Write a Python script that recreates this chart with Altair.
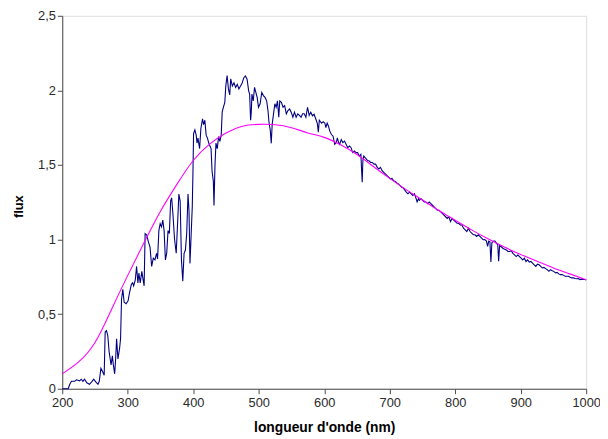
import altair as alt
import pandas as pd

# Observed solar spectrum (navy line)
spec_nm = [
    200, 205, 209, 211.5, 214, 219, 221.5, 226.5, 229, 231.5, 234, 237.5, 241.5, 245.5, 248, 251.5, 254.5, 256.5,
    259, 261.5, 264, 265.5, 267.5, 269.5, 271.5, 274.5, 276.5, 278, 280, 281.5, 283, 285, 287.5, 289, 290.5, 292.5,
    294.5, 297.5, 300.5, 302.5, 305.5, 307.5, 309, 311.5, 313.5, 315.5, 317, 319, 321.5, 323.5, 325, 326.5, 329,
    331.5, 334, 336.5, 339, 341.5, 344, 345.5, 347.5, 349.5, 351.5, 353.5, 355.5, 357.5, 359.5, 361.5, 363.5, 365.5,
    367, 369, 371.5, 374, 376.5, 378, 380, 382, 384, 386, 388, 390, 392, 393.5, 395, 396.5, 398.5, 399.5, 400.5,
    402.5, 404.5, 405.7, 407.2, 409.7, 411.7, 414.2, 415.7, 417.7, 419.7, 421.7, 423.7, 425.7, 427.2, 428.7, 430.7,
    431.7, 433.2, 434.7, 436.7, 438.7, 440.7, 442.7, 444.2, 446.2, 448.2, 449.7, 451.7, 453.7, 455.7, 457.2, 459.7,
    462.2, 464.7, 467.2, 469.7, 472.2, 474.7, 477.2, 479.7, 482.2, 484.6, 486.1, 487.6, 488.6, 489.6, 491.6, 493.6,
    495.6, 497.6, 499.6, 502.1, 504.6, 507.1, 509.6, 512.1, 514.1, 515.6, 517.6, 519.1, 520.6, 522.6, 524.6, 526.6,
    528.6, 530.6, 532.1, 534.6, 537.1, 539.6, 542.1, 544.6, 547.1, 549.6, 552.1, 554.6, 557.1, 559.6, 562.1, 564.6,
    567, 569.5, 572, 574.5, 577, 579.5, 582, 584.5, 587, 589.5, 591, 592.5, 596, 598.5, 601, 602.5, 604.5, 606.5,
    608.5, 611, 613.5, 616, 618.5, 620, 622, 623.5, 626, 628.5, 631, 633.5, 636, 638.5, 641, 643.5, 646, 648.5, 651,
    653.5, 656, 657, 658, 659, 660.4, 662.4, 664.4, 666.4, 668.4, 670.9, 673.4, 675.9, 678.4, 680.9, 683.4, 685.9,
    688.4, 690.9, 693.4, 695.9, 698.4, 700.9, 703.4, 705.9, 708.4, 710.9, 713.4, 715.9, 718.4, 720.9, 725.3, 727.8,
    730.3, 732.8, 735.3, 737.8, 740.3, 741.8, 743.8, 745.3, 747.8, 750.3, 752.8, 755.3, 757.8, 760.3, 762.8, 765.3,
    767.8, 770.3, 772.8, 775.3, 777.8, 780.3, 782.8, 785.3, 787.8, 790.3, 792.8, 795.3, 797.8, 800.3, 802.8, 805.3,
    807.8, 810.2, 812.7, 815.2, 817.7, 820.2, 822.7, 825.2, 827.7, 830.2, 832.7, 835.2, 837.7, 840.2, 842.7, 845.2,
    847.7, 849.5, 851.2, 853, 854.5, 856, 858.7, 860.7, 863.2, 865, 866.3, 867.8, 870.7, 873.2, 875.6, 878.1, 880.6,
    883.1, 885.6, 888.1, 890.6, 893.1, 895.6, 898.1, 900.6, 903.1, 905.6, 908.1, 910.6, 913.1, 915.6, 918.1, 920.6,
    923.1, 925.6, 928.1, 930.6, 933.1, 935.6, 938.1, 940.6, 943.1, 945.6, 948.1, 950.6, 953.1, 955.6, 958.1, 960.6,
    963.1, 965.6, 968, 970.5, 973, 975.5, 978, 980.5, 983, 985.5, 988, 990.5, 993, 995.5, 998, 1000,
]
spec_flux = [
    0.0, 0.0, 0.0, 0.03, 0.05, 0.05, 0.06, 0.053, 0.064, 0.05, 0.064, 0.04, 0.03, 0.05, 0.064, 0.045, 0.03, 0.05,
    0.137, 0.115, 0.09, 0.38, 0.39, 0.357, 0.25, 0.16, 0.22, 0.16, 0.10, 0.20, 0.335, 0.20, 0.27, 0.335, 0.60, 0.666,
    0.58, 0.57, 0.59, 0.64, 0.70, 0.71, 0.69, 0.73, 0.82, 0.71, 0.776, 0.71, 0.787, 0.73, 0.69, 1.04, 1.03,
    0.985, 0.95, 0.82, 0.875, 0.864, 0.908, 0.87, 1.06, 1.107, 1.085, 1.13, 1.06, 0.864, 0.91, 1.06, 1.04, 1.26,
    1.28, 1.17, 1.0, 0.908, 1.15, 1.305, 1.26, 0.864, 0.72, 0.908, 0.93, 1.04, 1.305, 1.195, 0.84, 1.0, 1.22, 1.44, 1.71,
    1.735, 1.70, 1.647, 1.68, 1.61, 1.746, 1.81, 1.77, 1.80, 1.70, 1.68, 1.647, 1.625, 1.61, 1.46, 1.39,
    1.228, 1.50, 1.647, 1.61, 1.69, 1.658, 1.70, 1.856, 1.89, 1.92, 2.03, 2.10, 2.01, 1.97, 2.077, 2.03,
    2.05, 2.02, 2.04, 2.01, 2.03, 2.05, 2.085, 2.097, 2.075, 1.997, 1.975, 1.80, 1.854, 1.975, 1.93, 2.02,
    1.986, 1.953, 1.887, 1.91, 1.986, 1.965, 1.953, 1.93, 1.865, 1.788, 1.733, 1.645, 1.777, 1.843, 1.91, 1.887,
    1.93, 1.82, 1.93, 1.92, 1.887, 1.898, 1.843, 1.865, 1.876, 1.854, 1.82, 1.854, 1.82, 1.843, 1.832, 1.82,
    1.843, 1.843, 1.82, 1.887, 1.832, 1.854, 1.83, 1.84, 1.81, 1.777, 1.72, 1.80, 1.78, 1.79, 1.78, 1.75, 1.78, 1.76,
    1.727, 1.704, 1.693, 1.638, 1.65, 1.682, 1.65, 1.638, 1.67, 1.65, 1.66, 1.638, 1.616, 1.627, 1.616, 1.583, 1.594, 1.583, 1.583,
    1.56, 1.572, 1.47, 1.385, 1.528, 1.56, 1.55, 1.539, 1.528, 1.528, 1.517, 1.517, 1.506, 1.506, 1.484, 1.473, 1.484,
    1.462, 1.451, 1.44, 1.429, 1.418, 1.407, 1.41, 1.395, 1.389, 1.38, 1.373, 1.362, 1.351, 1.345, 1.318, 1.307,
    1.318, 1.307, 1.296, 1.307, 1.274, 1.252, 1.274, 1.263, 1.274, 1.263, 1.252, 1.252, 1.241, 1.252, 1.241, 1.23,
    1.219, 1.208, 1.197, 1.197, 1.186, 1.175, 1.164, 1.153, 1.142, 1.153, 1.12, 1.142, 1.131, 1.12, 1.109, 1.109,
    1.098, 1.098, 1.076, 1.065, 1.054, 1.076, 1.054, 1.043, 1.032, 1.032, 1.021, 1.032, 1.021, 1.01, 0.999, 1.0,
    0.99, 0.955, 0.99, 0.985, 0.85, 0.98, 0.99, 0.99, 0.975, 0.965, 0.855, 0.96, 0.95, 0.94, 0.935, 0.93, 0.92,
    0.92, 0.925, 0.908, 0.897, 0.886, 0.897, 0.886, 0.875, 0.864, 0.875, 0.853, 0.864, 0.849, 0.853, 0.842, 0.831,
    0.82, 0.835, 0.831, 0.82, 0.81, 0.813, 0.805, 0.798, 0.787, 0.798, 0.791, 0.787, 0.776, 0.78, 0.77, 0.765,
    0.765, 0.76, 0.754, 0.754, 0.754, 0.747, 0.743, 0.743, 0.739, 0.737, 0.739, 0.732, 0.735, 0.732, 0.732, 0.73,
]

# Blackbody reference curve (magenta)
bb_nm = [200, 225, 250, 275, 300, 325, 350, 375, 400, 425, 450, 475, 500, 525, 550, 575, 600,
         625, 650, 675, 700, 725, 750, 775, 800, 825, 850, 875, 900, 925, 950, 975, 1000]
bb_flux = [0.10, 0.18, 0.31, 0.53, 0.76, 0.98, 1.19, 1.37, 1.53, 1.64, 1.715, 1.76, 1.772, 1.77, 1.75, 1.715, 1.685,
           1.635, 1.57, 1.49, 1.41, 1.335, 1.265, 1.195, 1.13, 1.065, 1.005, 0.95, 0.90, 0.855, 0.81, 0.77, 0.73]

x_ticks = [200, 300, 400, 500, 600, 700, 800, 900, 1000]
y_ticks = [0, 0.5, 1, 1.5, 2, 2.5]

spec = pd.DataFrame({"nm": spec_nm, "flux": spec_flux})
bb = pd.DataFrame({"nm": bb_nm, "flux": bb_flux})

FONT = "Liberation Sans"
AXIS_COLOR = "#4a4a4a"
LABEL_COLOR = "#2a2a2a"

x_enc = alt.X(
    "nm:Q",
    scale=alt.Scale(domain=[200, 1000], nice=False),
    axis=alt.Axis(
        values=x_ticks, format="d", title="longueur d'onde (nm)",
        grid=False, tickSize=5, labelPadding=3, labelFontSize=13, labelColor=LABEL_COLOR,
        labelFont=FONT, titleFont=FONT, titleFontSize=14, titleFontWeight="bold", titleColor="#000",
        titleBaseline="alphabetic", titleY=43, domainColor=AXIS_COLOR, tickColor=AXIS_COLOR,
        labelOverlap=False, labelFlush=False,
    ),
)
y_enc = alt.Y(
    "flux:Q",
    scale=alt.Scale(domain=[0, 2.5], nice=False),
    axis=alt.Axis(
        values=y_ticks, format=".1~f", labelExpr="replace(datum.label, '.', ',')",
        title="flux", grid=False, tickSize=5, labelPadding=2, labelFontSize=13, labelColor=LABEL_COLOR,
        labelFont=FONT, titleFont=FONT, titleFontSize=13, titleFontWeight="bold", titleColor="#000",
        titleBaseline="alphabetic", titleX=-40, titleY=193, titleAngle=-90,
        domainColor=AXIS_COLOR, tickColor=AXIS_COLOR, labelOverlap=False, labelFlush=False,
    ),
)

spec_line = alt.Chart(spec).mark_line(color="#000080", strokeWidth=1.1).encode(x=x_enc, y=y_enc)
bb_line = alt.Chart(bb).mark_line(color="#FF00FF", strokeWidth=1.1, interpolate="natural").encode(
    x="nm:Q", y="flux:Q"
)

chart = (
    alt.layer(spec_line, bb_line)
    .properties(
        width=531, height=378,
        autosize=alt.AutoSizeParams(type="none"),
        padding={"left": 55, "top": 5, "right": 14, "bottom": 46},
    )
    .configure_view(stroke=None)
    .configure(background="white")
)

chart.save("out.html", embed_options={"renderer": "svg", "actions": False})
